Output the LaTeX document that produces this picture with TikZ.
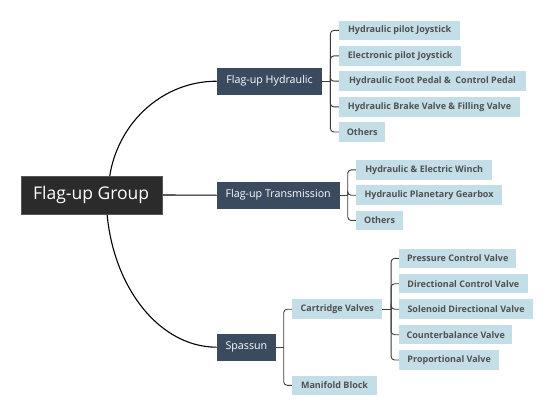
\documentclass[tikz,border=0pt]{standalone}
\usepackage{fontspec}
\setmainfont{Open Sans}
\usetikzlibrary{calc}
\definecolor{rootfill}{HTML}{2B2B2B}
\definecolor{mainfill}{HTML}{3A4A5F}
\definecolor{leaffill}{HTML}{C3DEE6}
\definecolor{leaftext}{HTML}{505050}
\definecolor{bracketcol}{HTML}{3C3C3C}
\pgfdeclarelayer{background}
\pgfsetlayers{background,main}
\begin{document}
\begin{tikzpicture}[x=1pt,y=-1pt,
  rootbox/.style={fill=rootfill,draw=rootfill!80!white,line width=0.4pt,text=white,minimum width=141,minimum height=38.3,inner sep=0pt,font=\fontsize{17.5}{20}\selectfont},
  mainbox/.style={fill=mainfill,text=white,minimum height=27.3,inner sep=0pt,anchor=west,font=\fontsize{10.7}{13}\selectfont},
  leaf/.style={fill=leaffill,text=leaftext,minimum height=19.5,inner sep=0pt,anchor=west,font=\fontsize{9}{11}\selectfont\bfseries},
  link/.style={draw=black,line width=1.1pt},
  bracket/.style={draw=bracketcol,line width=0.9pt,rounded corners=3.5pt}]
\useasboundingbox (0,0) rectangle (554,417);
% root and main topics
\node[rootbox] (root) at (91.2,195) {Flag-up Group};
\node[mainbox,minimum width=105.3] (hyd) at (216.7,81.2) {Flag-up Hydraulic};
\node[mainbox,minimum width=122.6] (trans) at (216.7,195.2) {Flag-up Transmission};
\node[mainbox,minimum width=59] (spa) at (216.7,347.2) {Spassun};
% hydraulic leaves
\node[leaf,minimum width=121] (h1) at (339,30.4) {Hydraulic pilot Joystick};
\node[leaf,minimum width=122] (h2) at (339,55.9) {Electronic pilot Joystick};
\node[leaf,minimum width=186.7] (h3) at (339,81.2) {Hydraulic Foot Pedal \&\ \ Control Pedal};
\node[leaf,minimum width=180.7] (h4) at (339,106.9) {Hydraulic Brake Valve \& Filling Valve};
\node[leaf,minimum width=46] (h5) at (339,132) {Others};
% transmission leaves
\node[leaf,minimum width=136] (t1) at (356,169.9) {Hydraulic \& Electric Winch};
\node[leaf,minimum width=145.7] (t2) at (356,195.2) {Hydraulic Planetary Gearbox};
\node[leaf,minimum width=46.7] (t3) at (356,220.5) {Others};
% spassun leaves
\node[leaf,minimum width=90] (cv) at (292,309.2) {Cartridge Valves};
\node[leaf,minimum width=84.7] (mb) at (292,385.3) {Manifold Block};
% cartridge leaves
\node[leaf,minimum width=117] (c1) at (399,258.4) {Pressure Control Valve};
\node[leaf,minimum width=128.3] (c2) at (399,283.7) {Directional Control Valve};
\node[leaf,minimum width=133.7] (c3) at (399,309.2) {Solenoid Directional Valve};
\node[leaf,minimum width=113] (c4) at (399,334.7) {Counterbalance Valve};
\node[leaf,minimum width=100] (c5) at (399,360) {Proportional Valve};
% connectors
\begin{pgfonlayer}{background}
\draw[link] ([xshift=17]root.center) .. controls +(0,-63) and +(-60,0) .. (hyd.west);
\draw[link] (root.east) -- (trans.west);
\draw[link] ([xshift=15]root.center) .. controls +(0,84) and +(-61,0) .. (spa.west);
\coordinate (hj) at ([xshift=8]hyd.east);
\draw[bracket,sharp corners] (hyd.east) -- (hj);
\foreach \c in {h1,h2,h3,h4,h5} \draw[bracket] (hj) |- (\c.west);
\coordinate (tj) at ([xshift=8]trans.east);
\draw[bracket,sharp corners] (trans.east) -- (tj);
\foreach \c in {t1,t2,t3} \draw[bracket] (tj) |- (\c.west);
\coordinate (sj) at ([xshift=7.6]spa.east);
\draw[bracket,sharp corners] (spa.east) -- (sj);
\foreach \c in {cv,mb} \draw[bracket] (sj) |- (\c.west);
\coordinate (cj) at ([xshift=8.7]cv.east);
\draw[bracket,sharp corners] (cv.east) -- (cj);
\foreach \c in {c1,c2,c3,c4,c5} \draw[bracket] (cj) |- (\c.west);
\end{pgfonlayer}
\end{tikzpicture}
\end{document}
